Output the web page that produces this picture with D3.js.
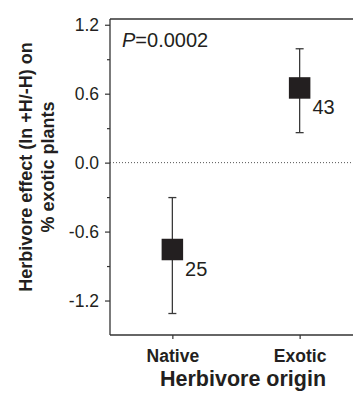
<!DOCTYPE html>
<html>
<head>
<meta charset="utf-8">
<script src="https://cdn.jsdelivr.net/npm/d3@7"></script>
<style>
body { margin: 0; background: #fff; }
text { font-family: "Liberation Sans", Arial, sans-serif; fill: #231f20; }
</style>
</head>
<body>
<div id="chart"></div>
<script>
// data
var origins = ["Native", "Exotic"];
var means = [-0.756, 0.650];
var lower = [-1.313, 0.261];
var upper = [-0.304, 0.991];
var counts = ["25", "43"];
var majorTicks = [-1.2, -0.6, 0.0, 0.6, 1.2];
var minorTicks = [-0.9, -0.3, 0.3, 0.9];
var pText = "0.0002";

var width = 353, height = 394;
var plotLeft = 110, plotTop = 19, plotBottom = 335;

var svg = d3.select("#chart")
    .append("svg")
    .attr("width", width)
    .attr("height", height);

var y = d3.scaleLinear()
    .domain([-1.5, 1.25])
    .range([plotBottom, plotTop]);

var x = d3.scalePoint()
    .domain(origins)
    .range([plotLeft, 362])
    .padding(0.49);

var axisColor = "#333";

// y axis
var yAxis = svg.append("g")
    .attr("transform", "translate(" + plotLeft + ",0)")
    .call(d3.axisLeft(y).tickValues(majorTicks).tickSize(5).tickPadding(6)
        .tickFormat(function(d) { return d.toFixed(1); }));
yAxis.select(".domain").remove();
yAxis.selectAll(".tick line").attr("stroke", axisColor).attr("stroke-width", 1.2);
yAxis.selectAll(".tick text").attr("font-size", "17.5px").attr("fill", "#231f20");

svg.append("g")
    .attr("transform", "translate(" + plotLeft + ",0)")
    .call(d3.axisLeft(y).tickValues(minorTicks).tickSize(3).tickFormat(""))
    .call(function(g) { g.select(".domain").remove(); })
    .selectAll(".tick line").attr("stroke", axisColor).attr("stroke-width", 1.2);

// x axis
var xAxis = svg.append("g")
    .attr("transform", "translate(0," + plotBottom + ")")
    .call(d3.axisBottom(x).tickSize(4).tickPadding(11));
xAxis.select(".domain").remove();
xAxis.selectAll(".tick line").attr("stroke", axisColor).attr("stroke-width", 1.2);
xAxis.selectAll(".tick text")
    .attr("font-size", "17.5px")
    .attr("font-weight", "bold")
    .attr("fill", "#231f20");

// frame lines: left, bottom, top
svg.append("line")
    .attr("x1", plotLeft).attr("y1", plotTop)
    .attr("x2", plotLeft).attr("y2", plotBottom)
    .attr("stroke", axisColor).attr("stroke-width", 1.3);
svg.append("line")
    .attr("x1", plotLeft).attr("y1", plotBottom)
    .attr("x2", width).attr("y2", plotBottom)
    .attr("stroke", axisColor).attr("stroke-width", 1.3);
svg.append("line")
    .attr("x1", plotLeft).attr("y1", plotTop)
    .attr("x2", width).attr("y2", plotTop)
    .attr("stroke", axisColor).attr("stroke-width", 1.3);

// zero line
svg.append("line")
    .attr("x1", plotLeft).attr("y1", y(0))
    .attr("x2", width).attr("y2", y(0))
    .attr("stroke", "#555")
    .attr("stroke-width", 1)
    .attr("stroke-dasharray", "1,2");

// error bars
var pts = origins.map(function(o, i) {
    return { origin: o, mean: means[i], lo: lower[i], hi: upper[i], n: counts[i] };
});

var g = svg.append("g");
pts.forEach(function(d) {
    var cx = x(d.origin);
    g.append("line")
        .attr("x1", cx).attr("x2", cx)
        .attr("y1", y(d.lo)).attr("y2", y(d.hi))
        .attr("stroke", "#3a3a3a").attr("stroke-width", 1.3);
    [d.lo, d.hi].forEach(function(v) {
        g.append("line")
            .attr("x1", cx - 4).attr("x2", cx + 4)
            .attr("y1", y(v)).attr("y2", y(v))
            .attr("stroke", "#3a3a3a").attr("stroke-width", 1.3);
    });
    var s = 21.5;
    g.append("rect")
        .attr("x", cx - s / 2).attr("y", y(d.mean) - s / 2)
        .attr("width", s).attr("height", s)
        .attr("fill", "#231f20");
    g.append("text")
        .attr("x", cx + s / 2 + 2)
        .attr("y", y(d.mean) + 26)
        .attr("font-size", "20px")
        .text(d.n);
});

// P value
var p = svg.append("text")
    .attr("x", 122)
    .attr("y", 47)
    .attr("font-size", "20px");
p.append("tspan").attr("font-style", "italic").text("P");
p.append("tspan").text("=" + pText);

// y title
var yt = svg.append("text")
    .attr("transform", "translate(32,167) rotate(-90)")
    .attr("text-anchor", "middle")
    .attr("font-size", "18px")
    .attr("font-weight", "bold");
yt.append("tspan").attr("x", 0).attr("dy", 0).text("Herbivore effect (ln +H/-H) on");
yt.append("tspan").attr("x", 0).attr("dy", 22).text("% exotic plants");

// x title
svg.append("text")
    .attr("x", 243)
    .attr("y", 386)
    .attr("text-anchor", "middle")
    .attr("font-size", "21.5px")
    .attr("font-weight", "bold")
    .text("Herbivore origin");
</script>
</body>
</html>
